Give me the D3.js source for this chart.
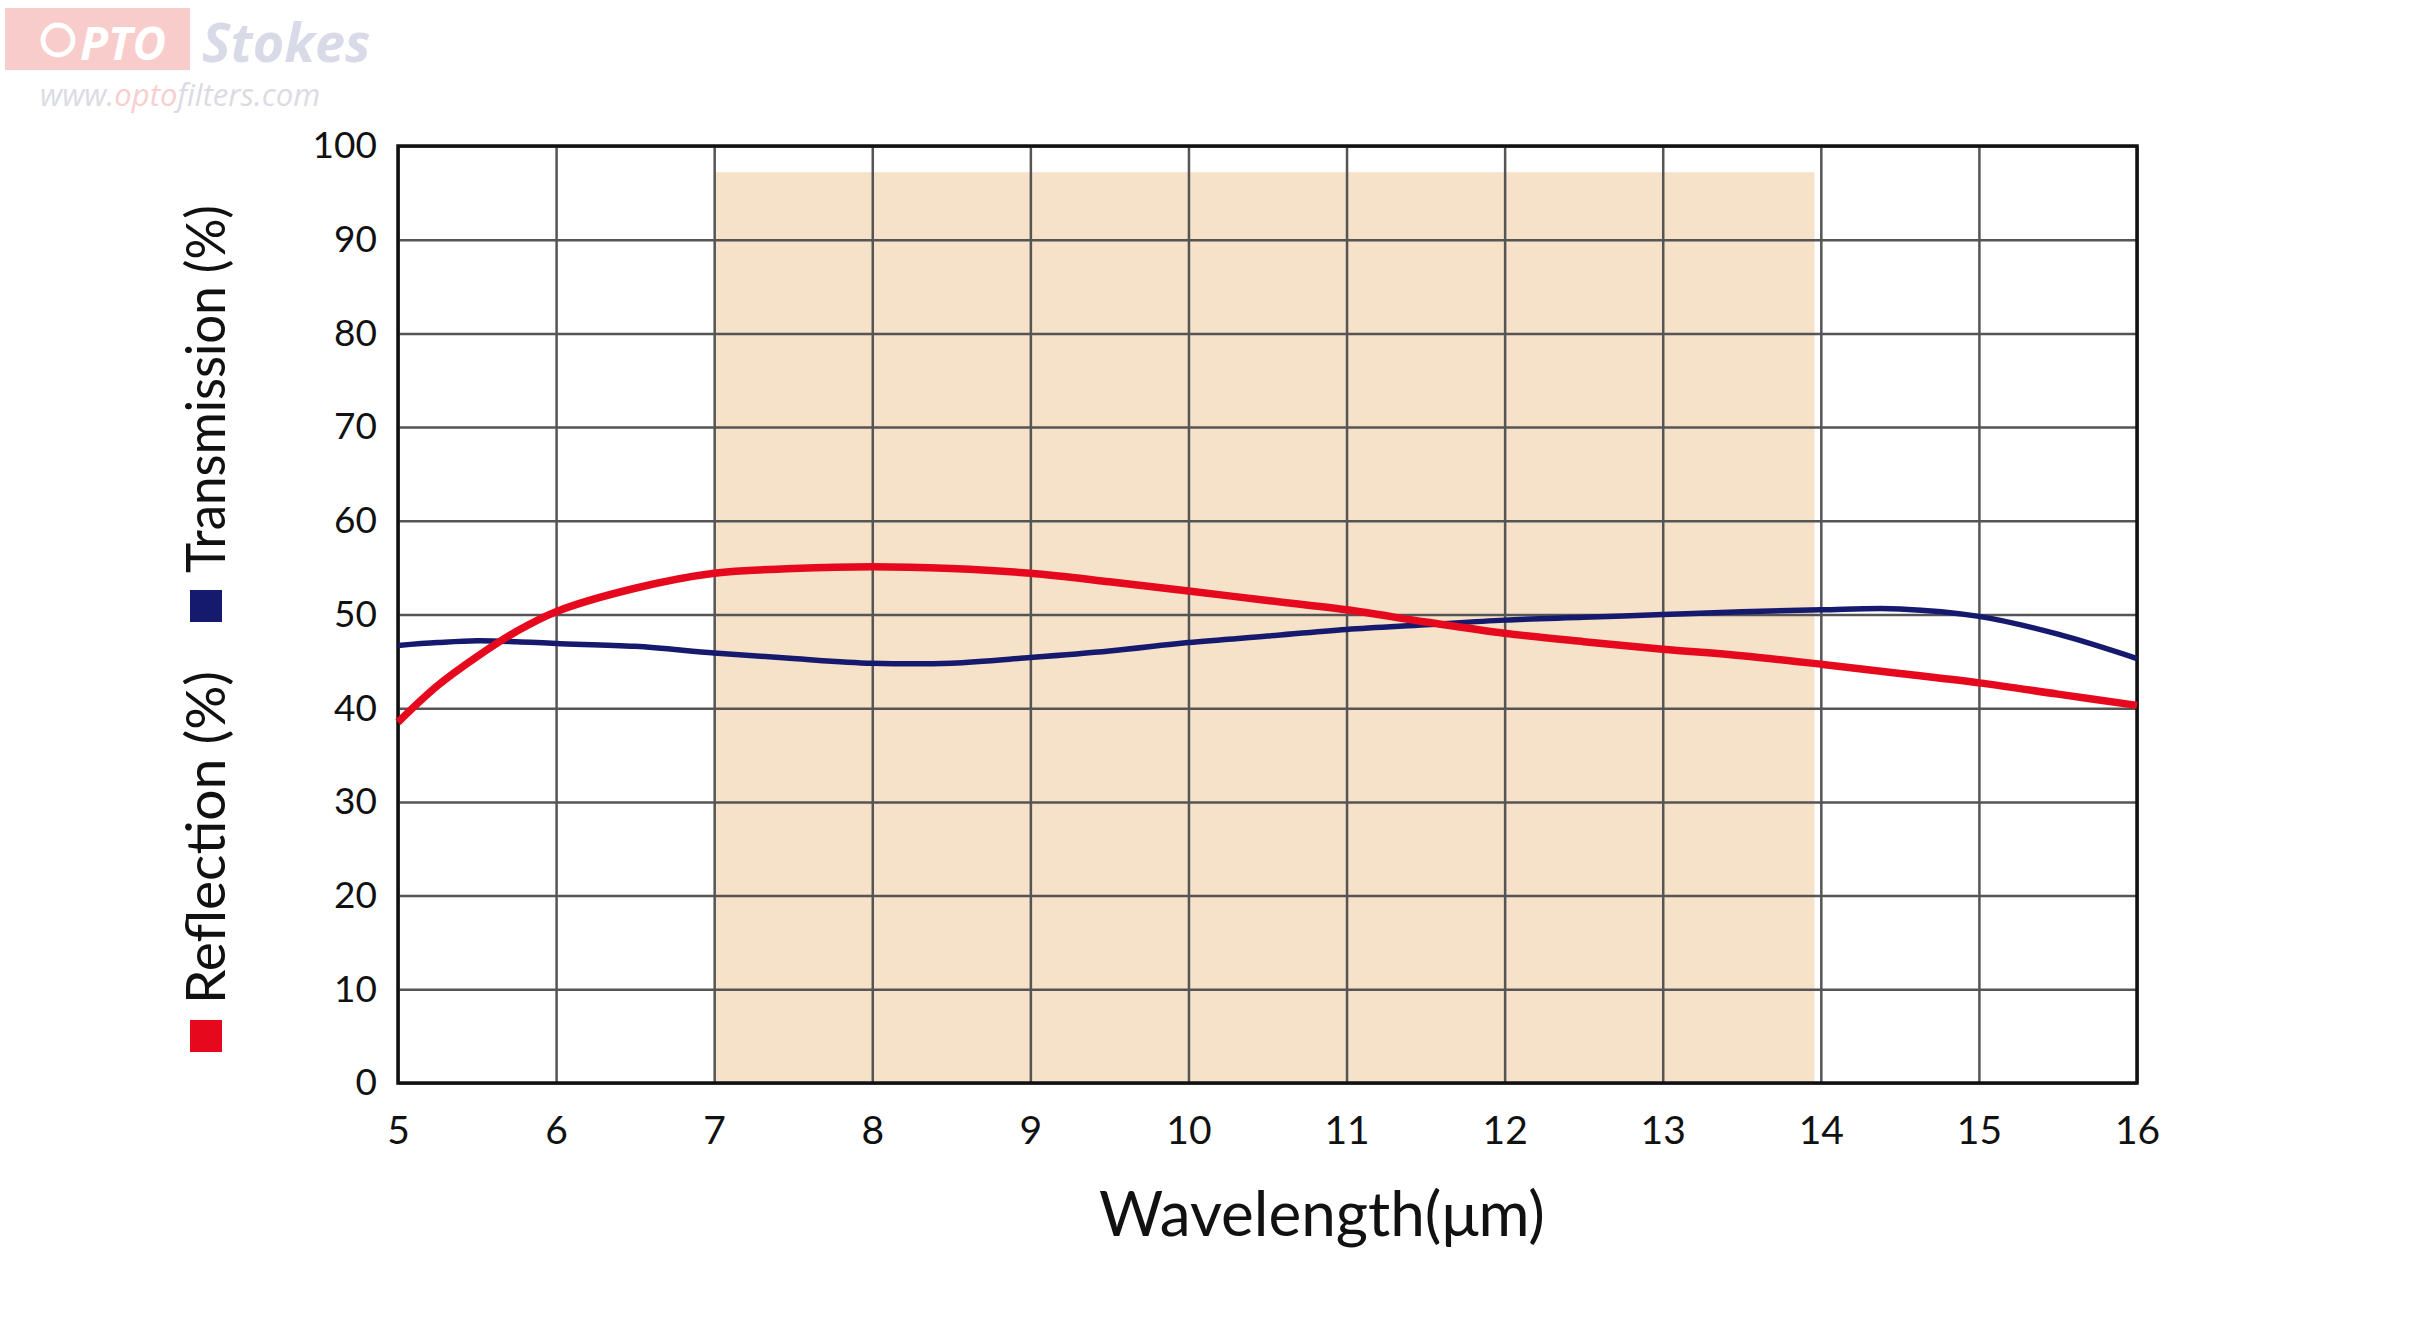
<!DOCTYPE html>
<html>
<head>
<meta charset="utf-8">
<script src="https://cdn.jsdelivr.net/npm/d3@7"></script>
<style>
  body { margin: 0; background: #fff; }
  svg { display: block; }
  text { font-family: "Lato", "DejaVu Sans", sans-serif; fill: #111; }
</style>
</head>
<body>
<script>
// values
var wavelength = [5, 5.25, 5.5, 5.75, 6, 6.5, 7, 7.5, 8, 8.5, 9, 9.5, 10, 10.5, 11, 11.5, 12, 12.5, 13, 13.5, 14, 14.5, 15, 15.5, 16];
var reflection = [38.5, 42.4, 45.5, 48.2, 50.3, 52.8, 54.4, 54.9, 55.1, 54.9, 54.4, 53.5, 52.5, 51.5, 50.5, 49.2, 48.0, 47.1, 46.3, 45.6, 44.7, 43.7, 42.7, 41.5, 40.3];
var transmission = [46.7, 47.0, 47.2, 47.1, 46.9, 46.6, 45.9, 45.3, 44.8, 44.8, 45.4, 46.1, 47.0, 47.7, 48.4, 48.9, 49.4, 49.7, 50.0, 50.3, 50.5, 50.6, 49.8, 47.9, 45.3];
var xTicks = [5, 6, 7, 8, 9, 10, 11, 12, 13, 14, 15, 16];
var yTicks = [0, 10, 20, 30, 40, 50, 60, 70, 80, 90, 100];
var band = [7, 13.96];   // shaded window, top at 97.2 %
var bandTop = 97.2;

var W = 2414, H = 1322;
var margin = {top: 146, right: 277, bottom: 239, left: 398}
  , width = W - margin.left - margin.right
  , height = H - margin.top - margin.bottom;

var svg = d3.select("body").append("svg")
    .attr("width", W)
    .attr("height", H);

// watermark
var wm = svg.append("g").attr("opacity", 0.5);
wm.append("rect").attr("x", 5).attr("y", 8).attr("width", 185).attr("height", 62).attr("fill", "#f59a9a");
wm.append("circle").attr("cx", 58).attr("cy", 40).attr("r", 15).attr("fill", "none").attr("stroke", "#fff").attr("stroke-width", 5);
wm.append("text").attr("x", 80).attr("y", 60).text("PTO")
    .style("font-family", "Open Sans").style("font-weight", "bold").style("font-style", "italic")
    .style("font-size", "46px").style("fill", "#fff");
wm.append("text").attr("x", 202).attr("y", 62).text("Stokes")
    .style("font-family", "Open Sans").style("font-weight", "bold").style("font-style", "italic")
    .style("font-size", "54px").style("fill", "#b4b6d0");
var url = wm.append("text").attr("x", 40).attr("y", 106)
    .style("font-family", "Open Sans").style("font-style", "italic").style("font-size", "31px")
    .style("fill", "#b8b8c8");
url.append("tspan").text("www.");
url.append("tspan").text("opto").style("fill", "#f0a0a0");
url.append("tspan").text("filters.com");

var g = svg.append("g")
    .attr("transform", "translate(" + margin.left + "," + margin.top + ")");

var x = d3.scaleLinear().domain([5, 16]).range([0, width]);
var y = d3.scaleLinear().domain([0, 100]).range([height, 0]);

// shaded window
g.append("rect")
    .attr("x", x(band[0]))
    .attr("y", y(bandTop))
    .attr("width", x(band[1]) - x(band[0]))
    .attr("height", y(0) - y(bandTop))
    .attr("fill", "#f6e1c9");

// grid
g.append("g")
    .call(d3.axisBottom(x).tickValues(xTicks).tickSize(height).tickFormat(""))
    .call(a => a.select(".domain").remove())
    .selectAll("line").attr("stroke", "#555").attr("stroke-width", 2.5);
g.append("g")
    .call(d3.axisLeft(y).tickValues(yTicks).tickSize(-width).tickFormat(""))
    .call(a => a.select(".domain").remove())
    .selectAll("line").attr("stroke", "#555").attr("stroke-width", 2.5);

// frame
g.append("rect")
    .attr("width", width).attr("height", height)
    .attr("fill", "none").attr("stroke", "#111").attr("stroke-width", 3.5);

// tick labels
g.append("g")
    .attr("transform", "translate(0," + height + ")")
    .call(d3.axisBottom(x).tickValues(xTicks).tickSize(0).tickPadding(33).tickFormat(d3.format("d")))
    .call(a => a.select(".domain").remove())
    .selectAll("text")
    .style("font-size", "39px").style("font-family", "Lato").attr("fill", "#111");

g.append("g")
    .call(d3.axisLeft(y).tickValues(yTicks).tickSize(0).tickPadding(21).tickFormat(d3.format("d")))
    .call(a => a.select(".domain").remove())
    .selectAll("text")
    .style("font-size", "37px").style("font-family", "Lato").attr("fill", "#111");

// curves
var line = d3.line()
    .x(function(d) { return x(d[0]); })
    .y(function(d) { return y(d[1]); })
    .curve(d3.curveCatmullRom);

g.append("path")
    .datum(d3.zip(wavelength, transmission))
    .attr("d", line)
    .attr("fill", "none").attr("stroke", "#161a6e").attr("stroke-width", 5.5);

g.append("path")
    .datum(d3.zip(wavelength, reflection))
    .attr("d", line)
    .attr("fill", "none").attr("stroke", "#e6081c").attr("stroke-width", 7.5);

// x axis title
svg.append("text")
    .attr("x", 1322)
    .attr("y", 1236)
    .attr("text-anchor", "middle")
    .style("font-size", "62px")
    .text("Wavelength(\u03bcm)");

// rotated y axis title with colour keys
var yt = svg.append("g").attr("transform", "rotate(-90)");
yt.append("rect").attr("x", -1052).attr("y", 190).attr("width", 32).attr("height", 32).attr("fill", "#e6081c");
yt.append("text").attr("x", -1004).attr("y", 225).style("font-size", "54px")
    .attr("textLength", 333).attr("lengthAdjust", "spacingAndGlyphs").text("Reflection (%)");
yt.append("rect").attr("x", -622).attr("y", 190).attr("width", 32).attr("height", 32).attr("fill", "#161a6e");
yt.append("text").attr("x", -573).attr("y", 225).style("font-size", "54px")
    .attr("textLength", 368).attr("lengthAdjust", "spacingAndGlyphs").text("Transmission (%)");
</script>
</body>
</html>
